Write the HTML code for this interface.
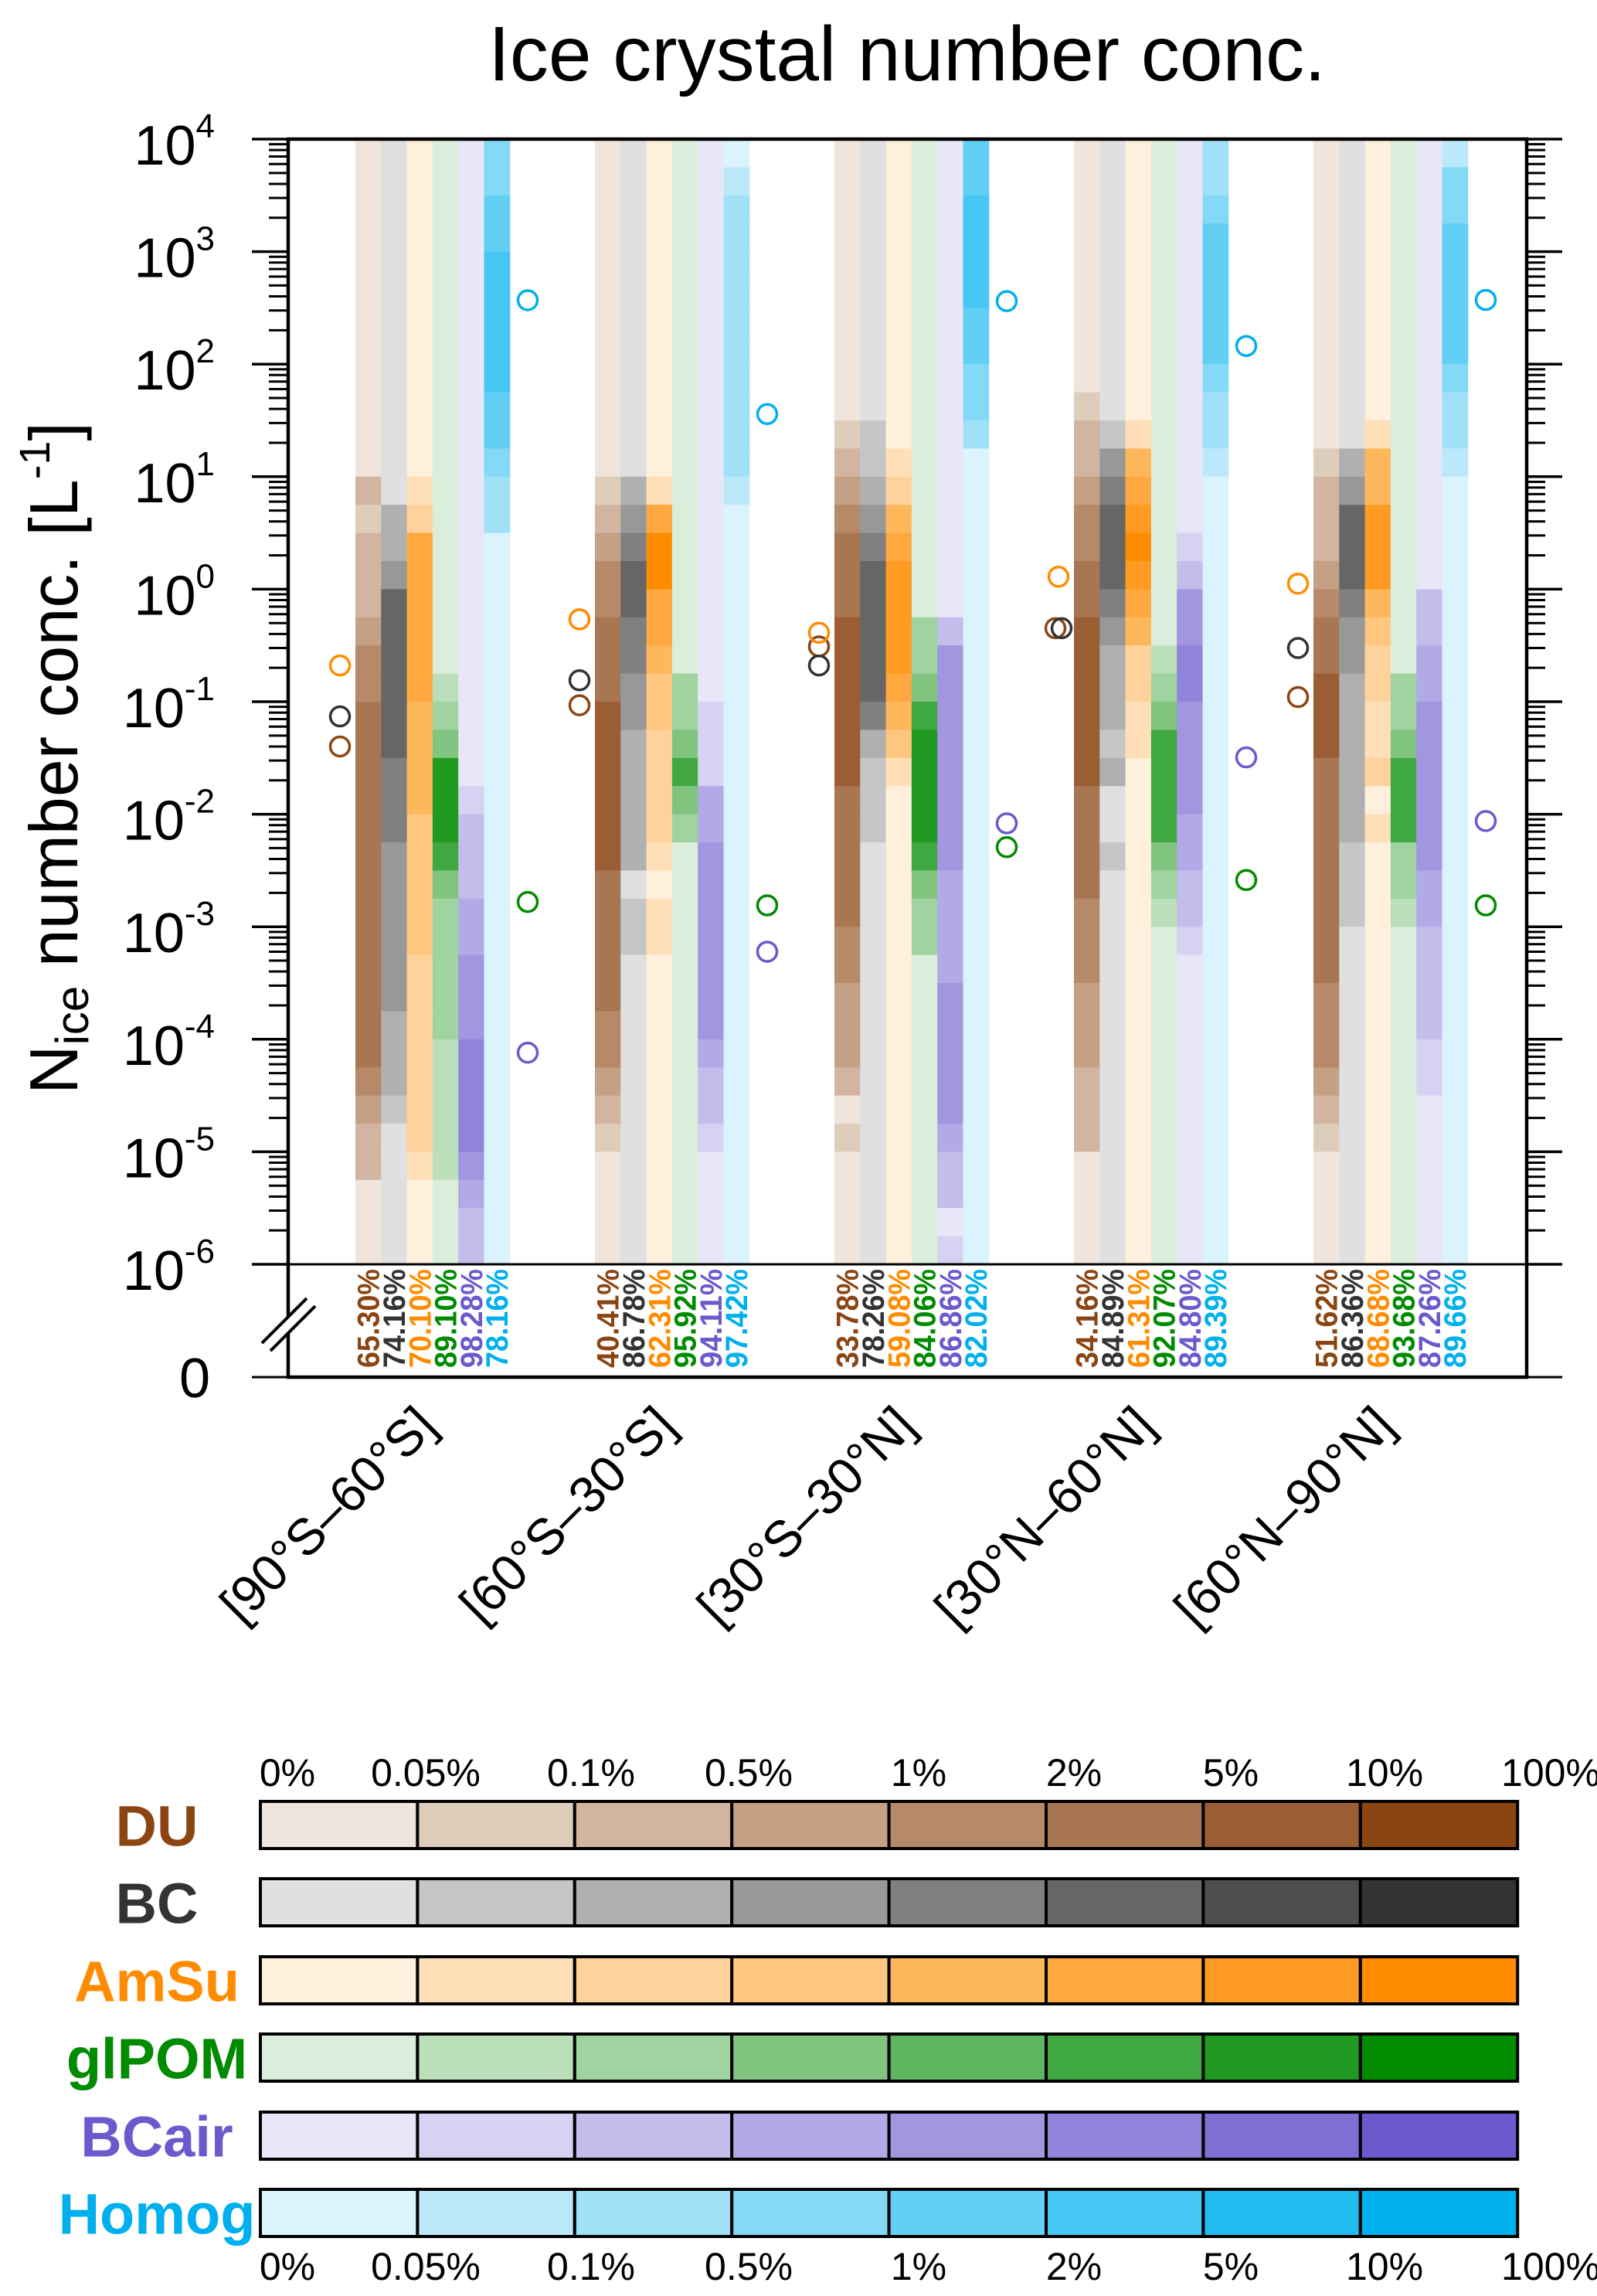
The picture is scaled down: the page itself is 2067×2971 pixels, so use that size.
<!DOCTYPE html>
<html><head><meta charset="utf-8"><style>
html,body{margin:0;padding:0;background:#fff;}
svg{display:block;font-family:"Liberation Sans",Arial,sans-serif;}
</style></head><body>
<svg id="chart" width="2067" height="2971" viewBox="0 0 2067 2971" xmlns="http://www.w3.org/2000/svg">
<rect x="0" y="0" width="2067" height="2971" fill="#fff"/>
<text x="1174" y="104" font-size="100" text-anchor="middle" fill="#000">Ice crystal number conc.</text>
<text transform="translate(100,981) rotate(-90)" font-size="88" text-anchor="middle" fill="#000">N<tspan font-size="60" dy="14">ice</tspan><tspan dy="-14"> number conc. [L</tspan><tspan font-size="56" dy="-36">-1</tspan><tspan dy="36">]</tspan></text>
<g id="heat"></g><g id="axes"></g><g id="marks"></g><g id="legend"></g>
</svg>
<script>
const regions=["[90°S–60°S]","[60°S–30°S]","[30°S–30°N]","[30°N–60°N]","[60°N–90°N]"];
const species=["DU","BC","AmSu","glPOM","BCair","Homog"];
const yTickExps=[4,3,2,1,0,-1,-2,-3,-4,-5,-6];
const legendTicks=["0%","0.05%","0.1%","0.5%","1%","2%","5%","10%","100%"];
// frequency-level bins (1..8), top (1e4) to bottom (1e-6), 0.25 decade each
const duLevels=["111111111111 3 2 333 4 55 6666666666666 5 4 33 111","111111111111 2 3 4 55 666 777777 66666 55 4 3 2 1111","1111111111 2 3 4 5 666 777777 66666 55 444 3 1 2 1111","111111111 2 33 4 55 66 777777 6666 555 444 333 1111","11111111111 2 333 4 5 66 777 66666666 555 4 3 2 1111"];
const bcLevels=["1111111111111 33 4 666666 555 444444 333 2 11111","111111111111 3 4 5 66 55 44 33333 1 22 11111111111","1111111111 22 3 4 5 66666 5 3 222 111111111111111","1111111111 2 4 5 666 5 4 333 2 3 11 2 11111111111111","11111111111 3 4 666 5 44 333333 222 111111111111"];
const amsuLevels=["111111111111 2 3 666666 5555 44444 3333333 2 111","111111111111 2 6 88 6 6 5 44 3333 2 1 22 11111111111","11111111111 2 3 5 6 7777 6 5 4 2 11111111111111111","1111111111 2 5 6 7 8 7 6 5 33 22 111111111111111111","1111111111 2 55 777 5 4 33 22 3 1 2 111111111111111"];
const glpomLevels=["1111111111111111111 2 3 4 777 6 4 33333 22222 111","1111111111111111111 33 4 6 4 3 111111111111111","11111111111111111 33 4 6 7777 6 4 33 11111111111","111111111111111111 2 3 4 6666 4 3 2 111111111111","1111111111111111111 33 4 666 33 2 111111111111"];
const bcairLevels=["11111111111111111111111 2 333 44 555 6666 5 4 33","11111111111111111111 222 44 5555555 4 33 2 1111","11111111111111111 3 55555555 4444 55555 4 33 1 2","11111111111111 2 3 55 66 5555 44 33 2 11111111111","1111111111111111 33 44 555555 44 3333 22 111111"];
const homogLevels=["44 55 66666 55 4 33 11111111111111111111111111","1 2 3333333333 2 111111111111111111111111111","55 6666 55 44 3 11111111111111111111111111111","33 4 55555 4 33 2 1111111111111111111111111111","2 44 55555 4 33 2 1111111111111111111111111111"];
// mean concentrations (circles)
const duMean=[0.040,0.093,0.31,0.45,0.11];
const bcMean=[0.074,0.155,0.21,0.45,0.30];
const amsuMean=[0.21,0.54,0.41,1.29,1.12];
const glpomMean=[0.00166,0.00155,0.0051,0.0026,0.00155];
const bcairMean=[7.6e-5,6.0e-4,0.0083,0.032,0.0087];
const homogMean=[370,36,363,145,372];
// zero-fraction percentages
const duPct=["65.30%","40.41%","33.78%","34.16%","51.62%"];
const bcPct=["74.16%","86.78%","78.26%","84.89%","86.36%"];
const amsuPct=["70.10%","62.31%","59.08%","61.31%","68.68%"];
const glpomPct=["89.10%","95.92%","84.06%","92.07%","93.68%"];
const bcairPct=["98.28%","94.11%","86.86%","84.80%","87.26%"];
const homogPct=["78.16%","97.42%","82.02%","89.39%","89.66%"];

const NS="http://www.w3.org/2000/svg";
const PL=373,PR=1976,PT=180,PB=1636,ZB=1782,DEC=145.6;
function yScale(v){return PT+(4-Math.log10(v))*DEC;}
function yExp(e){return PT+(4-e)*DEC;}
function groupX(g){return 460+310*g;}
const BW=33.3;
function barX(g,i){return groupX(g)+i*BW;}
const colors={
DU:['#efe5dc','#dfcdbb','#d2b5a0','#c4a084','#b68a68','#a97652','#9a5d34','#8b4513'],
BC:['#e0e0e0','#c6c6c6','#b0b0b0','#989898','#808080','#666666','#4d4d4d','#333333'],
AmSu:['#ffefdd','#ffdfb8','#ffd29c','#ffc680','#ffb75c','#ffa83f','#ff9a22','#ff8c00'],
glPOM:['#dbeedb','#bbdfbb','#9fd39f','#80c480','#5eb55e','#40a840','#209a20','#008b00'],
BCair:['#e8e6f8','#d6d2f2','#c4bdec','#b2aae6','#a196df','#8f84d9','#7d6fd3','#6a5acd'],
Homog:['#dbf3fc','#bce9f9','#a0e1f8','#84d9f6','#62cff5','#46c6f2','#22bbf0','#00b0ee']};
const mainColor={DU:'#8b4513',BC:'#333333',AmSu:'#ff8c00',glPOM:'#008b00',BCair:'#6a5acd',Homog:'#00b0ee'};
const levelSets=[duLevels,bcLevels,amsuLevels,glpomLevels,bcairLevels,homogLevels];
const meanSets=[duMean,bcMean,amsuMean,glpomMean,bcairMean,homogMean];
const pctSets=[duPct,bcPct,amsuPct,glpomPct,bcairPct,homogPct];
function mk(tag,attrs,parent){const e=document.createElementNS(NS,tag);for(const k in attrs)e.setAttribute(k,attrs[k]);parent.appendChild(e);return e;}
const heat=document.getElementById('heat'),axes=document.getElementById('axes'),marks=document.getElementById('marks'),legend=document.getElementById('legend');

for(let g=0;g<regions.length;g++){
 for(let i=0;i<species.length;i++){
  let s=levelSets[i][g].replace(/\s+/g,'');
  while(s.length<40)s+='1';
  for(let k=0;k<40;k++){
   const lv=parseInt(s[k]);
   if(!lv)continue;
   const e0=4-k*0.25,e1=e0-0.25;
   const r=mk('rect',{x:barX(g,i),y:yExp(e0),width:BW+0.5,height:yExp(e1)-yExp(e0)+0.5,fill:colors[species[i]][lv-1]},heat);
   
   
  }
  const cx=barX(g,i)+BW/2;
  const t=mk('text',{transform:`translate(${cx+14},1770) rotate(-90)`,'font-size':40,'font-weight':'bold',textLength:128,lengthAdjust:'spacingAndGlyphs',fill:mainColor[species[i]]},marks);
  t.textContent=pctSets[i][g];
  
  
 }
 for(let i=0;i<species.length;i++){
  const left=i<3;
  let cx=left?groupX(g)-20:groupX(g)+223;
  if(g===3&&i===0)cx-=4; if(g===3&&i===1)cx+=4;
  const c=mk('circle',{cx:cx,cy:yScale(meanSets[i][g]),r:12.5,fill:'none',stroke:mainColor[species[i]],'stroke-width':3.5},marks);
  
  
 }
 const cx=groupX(g)+100;
 const xl=mk('text',{transform:`translate(${cx+8},1848) rotate(-45)`,'font-size':66,'text-anchor':'end',fill:'#000'},axes);
 xl.textContent=regions[g];
 
 
}
mk('rect',{x:PL,y:PT,width:PR-PL,height:ZB-PT,fill:'none',stroke:'#000','stroke-width':4.5},axes);
mk('line',{x1:326,y1:PB,x2:2022,y2:PB,stroke:'#000','stroke-width':3},axes);
mk('line',{x1:326,y1:ZB,x2:PL,y2:ZB,stroke:'#000','stroke-width':3},axes);
mk('line',{x1:PR,y1:ZB,x2:2022,y2:ZB,stroke:'#000','stroke-width':3},axes);
for(const e of yTickExps){
 const y=yExp(e);
 mk('line',{x1:326,y1:y,x2:PL,y2:y,stroke:'#000','stroke-width':3.5},axes);
 mk('line',{x1:PR,y1:y,x2:2022,y2:y,stroke:'#000','stroke-width':3.5},axes);
 const lab=mk('text',{x:278,y:y+33,'font-size':72,'text-anchor':'end',fill:'#000'},axes);
 lab.innerHTML='10<tspan font-size="44" dy="-35">'+e+'</tspan>';
 
 
 if(e>-6){for(let m=2;m<=9;m++){const yy=yExp(e-1)-Math.log10(m)*DEC;
  mk('line',{x1:348,y1:yy,x2:PL,y2:yy,stroke:'#000','stroke-width':3},axes);
  mk('line',{x1:PR,y1:yy,x2:2000,y2:yy,stroke:'#000','stroke-width':3},axes);}}
}
const zl=mk('text',{x:272,y:1808,'font-size':72,'text-anchor':'end',fill:'#000'},axes);zl.textContent='0';


mk('polygon',{points:'339,1738 397,1680 408,1690 350,1748',fill:'#fff'},axes);
mk('line',{x1:339,y1:1738,x2:397,y2:1680,stroke:'#000','stroke-width':4},axes);
mk('line',{x1:350,y1:1748,x2:408,y2:1690,stroke:'#000','stroke-width':4},axes);

const LX=337,SEG=203.4,LTOP=[2331,2431,2532,2632,2733,2833],LH=61;
const labCenters=[372,551,765,969,1189,1390,1593,1792,2007];
for(let i=0;i<species.length;i++){
 const sp=species[i];
 for(let j=0;j<8;j++){
  const r=mk('rect',{x:LX+j*SEG,y:LTOP[i],width:SEG,height:LH,fill:colors[sp][j],stroke:'#000','stroke-width':4},legend);
  
  
 }
 const t=mk('text',{x:203,y:LTOP[i]+LH/2+27,'font-size':74,'font-weight':'bold','text-anchor':'middle',fill:mainColor[sp]},legend);
 t.textContent=sp;
 
 
}
for(let j=0;j<legendTicks.length;j++){
 for(const yy of [2311,2950]){
  const t=mk('text',{x:labCenters[j],y:yy,'font-size':50,'text-anchor':'middle',fill:'#000'},legend);
  t.textContent=legendTicks[j];
  
  
 }
}
</script>
</body></html>
